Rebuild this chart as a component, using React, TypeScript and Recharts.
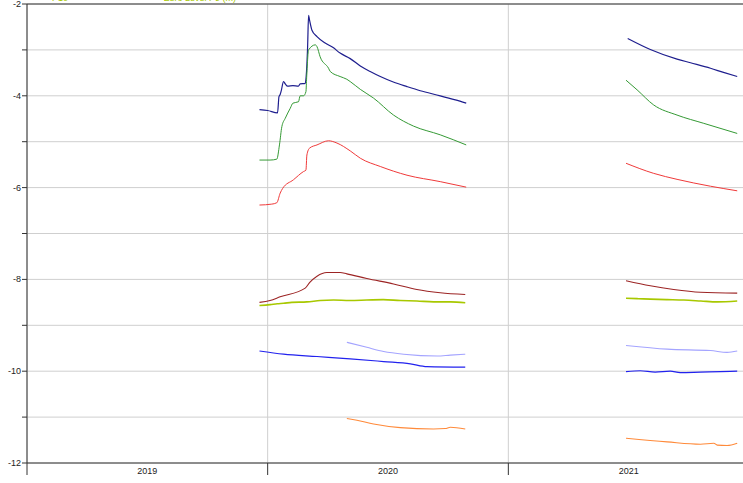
import React from "react";
import { LineChart, Line, XAxis, YAxis, CartesianGrid, ReferenceLine } from "recharts";

type Pt = { t: number; v: number | null };

// x = fractional year, v = level (m)
const GAP = 2021.2;

const navySeries: Pt[] = [
  { t: 2019.966, v: -4.3 }, { t: 2020.0, v: -4.32 }, { t: 2020.041, v: -4.37 }, { t: 2020.047, v: -4.02 },
  { t: 2020.052, v: -3.97 }, { t: 2020.056, v: -3.9 }, { t: 2020.066, v: -3.69 }, { t: 2020.073, v: -3.74 },
  { t: 2020.083, v: -3.79 }, { t: 2020.105, v: -3.78 }, { t: 2020.128, v: -3.79 }, { t: 2020.135, v: -3.74 },
  { t: 2020.156, v: -3.73 }, { t: 2020.16, v: -3.58 }, { t: 2020.166, v: -2.93 }, { t: 2020.17, v: -2.25 },
  { t: 2020.174, v: -2.35 }, { t: 2020.184, v: -2.57 }, { t: 2020.205, v: -2.71 }, { t: 2020.239, v: -2.85 },
  { t: 2020.272, v: -2.95 }, { t: 2020.301, v: -3.07 }, { t: 2020.343, v: -3.19 }, { t: 2020.385, v: -3.35 },
  { t: 2020.426, v: -3.47 }, { t: 2020.468, v: -3.58 }, { t: 2020.522, v: -3.7 }, { t: 2020.579, v: -3.8 },
  { t: 2020.634, v: -3.89 }, { t: 2020.717, v: -4.0 }, { t: 2020.78, v: -4.09 }, { t: 2020.825, v: -4.16 },
  { t: GAP, v: null },
  { t: 2021.496, v: -2.75 }, { t: 2021.59, v: -2.99 }, { t: 2021.701, v: -3.2 }, { t: 2021.757, v: -3.28 },
  { t: 2021.84, v: -3.4 }, { t: 2021.894, v: -3.49 }, { t: 2021.951, v: -3.58 },
];

const greenSeries: Pt[] = [
  { t: 2019.966, v: -5.4 }, { t: 2020.01, v: -5.4 }, { t: 2020.038, v: -5.38 }, { t: 2020.049, v: -5.07 },
  { t: 2020.059, v: -4.67 }, { t: 2020.073, v: -4.49 }, { t: 2020.094, v: -4.27 }, { t: 2020.105, v: -4.16 },
  { t: 2020.128, v: -4.13 }, { t: 2020.135, v: -4.0 }, { t: 2020.149, v: -4.0 }, { t: 2020.159, v: -3.91 },
  { t: 2020.162, v: -3.6 }, { t: 2020.17, v: -3.0 }, { t: 2020.198, v: -2.89 }, { t: 2020.205, v: -2.93 },
  { t: 2020.218, v: -3.15 }, { t: 2020.253, v: -3.4 }, { t: 2020.26, v: -3.47 }, { t: 2020.301, v: -3.58 },
  { t: 2020.329, v: -3.64 }, { t: 2020.343, v: -3.69 }, { t: 2020.385, v: -3.86 }, { t: 2020.44, v: -4.05 },
  { t: 2020.523, v: -4.42 }, { t: 2020.606, v: -4.66 }, { t: 2020.717, v: -4.85 }, { t: 2020.825, v: -5.07 },
  { t: GAP, v: null },
  { t: 2021.489, v: -3.66 }, { t: 2021.535, v: -3.87 }, { t: 2021.604, v: -4.2 }, { t: 2021.701, v: -4.42 },
  { t: 2021.812, v: -4.6 }, { t: 2021.951, v: -4.82 },
];

const redSeries: Pt[] = [
  { t: 2019.966, v: -6.38 }, { t: 2020.017, v: -6.36 }, { t: 2020.038, v: -6.33 }, { t: 2020.052, v: -6.12 },
  { t: 2020.062, v: -6.02 }, { t: 2020.107, v: -5.83 }, { t: 2020.149, v: -5.65 }, { t: 2020.159, v: -5.62 },
  { t: 2020.163, v: -5.29 }, { t: 2020.174, v: -5.14 }, { t: 2020.205, v: -5.07 }, { t: 2020.253, v: -4.98 },
  { t: 2020.288, v: -5.03 }, { t: 2020.343, v: -5.2 }, { t: 2020.385, v: -5.36 }, { t: 2020.468, v: -5.54 },
  { t: 2020.579, v: -5.73 }, { t: 2020.717, v: -5.87 }, { t: 2020.825, v: -5.99 },
  { t: GAP, v: null },
  { t: 2021.489, v: -5.47 }, { t: 2021.604, v: -5.69 }, { t: 2021.701, v: -5.82 }, { t: 2021.84, v: -5.97 },
  { t: 2021.951, v: -6.07 },
];

const maroonSeries: Pt[] = [
  { t: 2019.966, v: -8.5 }, { t: 2020.01, v: -8.46 }, { t: 2020.052, v: -8.38 }, { t: 2020.156, v: -8.19 },
  { t: 2020.174, v: -8.07 }, { t: 2020.205, v: -7.93 }, { t: 2020.246, v: -7.85 }, { t: 2020.301, v: -7.85 },
  { t: 2020.329, v: -7.88 }, { t: 2020.412, v: -7.98 }, { t: 2020.523, v: -8.1 }, { t: 2020.62, v: -8.22 },
  { t: 2020.717, v: -8.29 }, { t: 2020.821, v: -8.33 },
  { t: GAP, v: null },
  { t: 2021.489, v: -8.03 }, { t: 2021.59, v: -8.14 }, { t: 2021.687, v: -8.22 }, { t: 2021.798, v: -8.28 },
  { t: 2021.951, v: -8.3 },
];

const zeroLevelP9: Pt[] = [
  { t: 2019.966, v: -8.57 }, { t: 2020.01, v: -8.55 }, { t: 2020.04, v: -8.53 }, { t: 2020.066, v: -8.52 },
  { t: 2020.1, v: -8.5 }, { t: 2020.163, v: -8.49 }, { t: 2020.218, v: -8.46 }, { t: 2020.274, v: -8.45 },
  { t: 2020.34, v: -8.46 }, { t: 2020.412, v: -8.45 }, { t: 2020.48, v: -8.44 }, { t: 2020.551, v: -8.46 },
  { t: 2020.62, v: -8.47 }, { t: 2020.689, v: -8.49 }, { t: 2020.76, v: -8.49 }, { t: 2020.821, v: -8.51 },
  { t: GAP, v: null },
  { t: 2021.489, v: -8.41 }, { t: 2021.54, v: -8.42 }, { t: 2021.59, v: -8.43 }, { t: 2021.66, v: -8.44 },
  { t: 2021.729, v: -8.45 }, { t: 2021.8, v: -8.47 }, { t: 2021.868, v: -8.49 }, { t: 2021.951, v: -8.47 },
];

const lavenderSeries: Pt[] = [
  { t: 2020.329, v: -9.37 }, { t: 2020.412, v: -9.48 }, { t: 2020.482, v: -9.57 }, { t: 2020.565, v: -9.63 },
  { t: 2020.704, v: -9.67 }, { t: 2020.759, v: -9.65 }, { t: 2020.821, v: -9.63 },
  { t: GAP, v: null },
  { t: 2021.489, v: -9.44 }, { t: 2021.66, v: -9.52 }, { t: 2021.84, v: -9.55 }, { t: 2021.909, v: -9.59 },
  { t: 2021.951, v: -9.56 },
];

const blueSeries: Pt[] = [
  { t: 2019.966, v: -9.56 }, { t: 2020.066, v: -9.63 }, { t: 2020.205, v: -9.68 }, { t: 2020.343, v: -9.73 },
  { t: 2020.482, v: -9.79 }, { t: 2020.593, v: -9.84 }, { t: 2020.662, v: -9.9 }, { t: 2020.821, v: -9.91 },
  { t: GAP, v: null },
  { t: 2021.489, v: -10.01 }, { t: 2021.548, v: -9.99 }, { t: 2021.61, v: -10.02 }, { t: 2021.673, v: -10.0 },
  { t: 2021.714, v: -10.03 }, { t: 2021.798, v: -10.02 }, { t: 2021.881, v: -10.01 }, { t: 2021.951, v: -10.0 },
];

const orangeSeries: Pt[] = [
  { t: 2020.329, v: -11.03 }, { t: 2020.371, v: -11.07 }, { t: 2020.44, v: -11.15 }, { t: 2020.551, v: -11.23 },
  { t: 2020.689, v: -11.26 }, { t: 2020.738, v: -11.25 }, { t: 2020.759, v: -11.22 }, { t: 2020.821, v: -11.26 },
  { t: GAP, v: null },
  { t: 2021.489, v: -11.46 }, { t: 2021.66, v: -11.54 }, { t: 2021.798, v: -11.59 }, { t: 2021.854, v: -11.57 },
  { t: 2021.868, v: -11.61 }, { t: 2021.909, v: -11.62 }, { t: 2021.951, v: -11.57 },
];

const xDomain: [number, number] = [2019, 2022];
const yearTicks = [2019, 2020, 2021];
const yearLabels = ["2019", "2020", "2021"];
const yTicks = [-12, -11, -10, -9, -8, -7, -6, -5, -4, -3, -2];
const legendLabels = ["P10", "Zero Level P9 (m)"];

const FONT = "'Liberation Sans', Arial, sans-serif";

const YTick = (props: any) => {
  const { x, y, payload } = props;
  if (payload.value % 2 !== 0) return <g />;
  return (
    <text x={x} y={y} dy={3} textAnchor="end" fontSize={9} fill="#222" fontFamily={FONT}>
      {payload.value}
    </text>
  );
};

// year label centred in the middle of its year band
const XTick = (props: any) => {
  const { x, y, index, width } = props;
  const yearPx = (width || 722) / (xDomain[1] - xDomain[0]);
  return (
    <text x={x + yearPx / 2} y={y} dy={-1.5} textAnchor="middle" fontSize={9} fill="#222" fontFamily={FONT}>
      {yearLabels[index]}
    </text>
  );
};

const series = [
  { data: navySeries, color: "#1e1e8e", w: 1.2, name: "s1" },
  { data: greenSeries, color: "#359a35", w: 1, name: "s2" },
  { data: redSeries, color: "#f03a3a", w: 1, name: "s3" },
  { data: maroonSeries, color: "#9c2424", w: 1.1, name: "s4" },
  { data: zeroLevelP9, color: "#a8c800", w: 1.6, name: "Zero Level P9 (m)" },
  { data: lavenderSeries, color: "#a4a4ff", w: 1.1, name: "s6" },
  { data: blueSeries, color: "#2222ee", w: 1.2, name: "s7" },
  { data: orangeSeries, color: "#ff8a3a", w: 1.1, name: "s8" },
];

export default function App() {
  return (
    <div
      style={{
        position: "absolute",
        top: 0,
        left: 0,
        width: 743,
        height: 483,
        overflow: "hidden",
        background: "#fff",
        fontFamily: FONT,
      }}
    >
      <LineChart width={749} height={483} margin={{ top: 4, right: 0, bottom: 0, left: 0 }}>
        <CartesianGrid stroke="#cfcfcf" />
        <XAxis
          type="number"
          dataKey="t"
          domain={xDomain}
          ticks={yearTicks}
          interval={0}
          tick={<XTick />}
          tickSize={12}
          tickMargin={0}
          height={20}
          stroke="#333"
          allowDataOverflow
        />
        <YAxis
          type="number"
          domain={[-12, -2]}
          ticks={yTicks}
          width={27}
          tickSize={5}
          tickMargin={1}
          stroke="#333"
          tick={<YTick />}
          interval={0}
          allowDataOverflow
        />
        <ReferenceLine y={-2} stroke="#333" />
        {series.map((s) => (
          <Line
            key={s.name}
            data={s.data}
            dataKey="v"
            name={s.name}
            type="monotoneX"
            stroke={s.color}
            strokeWidth={s.w}
            dot={false}
            activeDot={false}
            isAnimationActive={false}
            connectNulls={false}
          />
        ))}
      </LineChart>
      <div style={{ position: "absolute", top: -6, left: 52, fontSize: 9, lineHeight: "9px", color: "#a8c800", whiteSpace: "nowrap" }}>
        {legendLabels[0]}
      </div>
      <div style={{ position: "absolute", top: -6, left: 164, fontSize: 9, lineHeight: "9px", color: "#a8c800", whiteSpace: "nowrap" }}>
        {legendLabels[1]}
      </div>
    </div>
  );
}
